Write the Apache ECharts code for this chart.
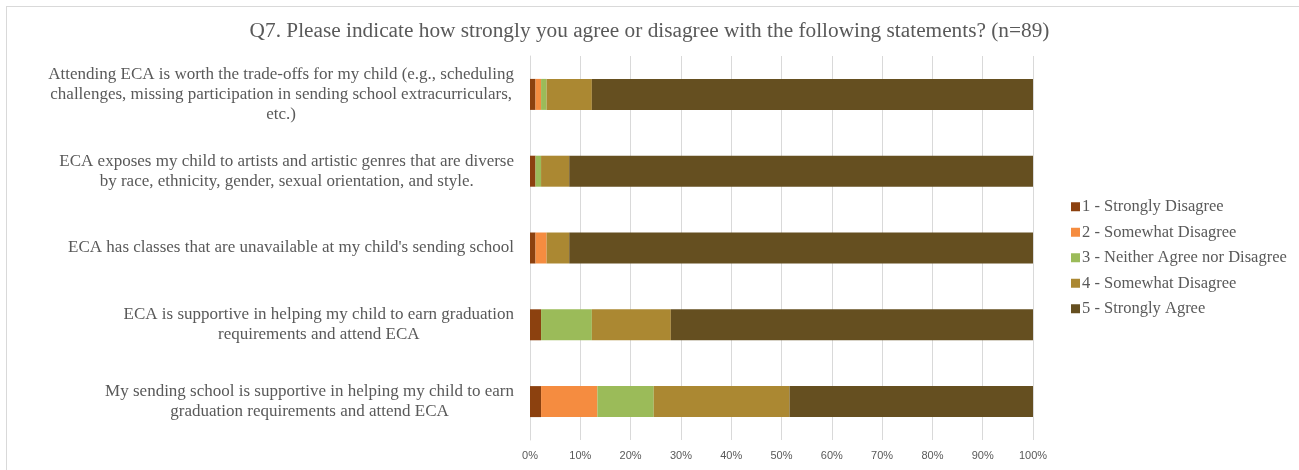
<!DOCTYPE html>
<html>
<head>
<meta charset="utf-8">
<script src="https://cdn.jsdelivr.net/npm/echarts@6/dist/echarts.min.js"></script>
<style>
  html, body { margin: 0; padding: 0; background: #ffffff; }
  #frame { position: absolute; left: 6px; top: 6px; width: 1400px; height: 600px;
           border-left: 1px solid #d9d9d9; border-top: 1px solid #d9d9d9; }
  #chart { position: absolute; left: 0; top: 0; width: 1299px; height: 470px; }
</style>
</head>
<body>
<div id="frame"></div>
<div id="chart"></div>
<script>
// Survey statements (top to bottom), wrapped as they appear
const statements = [
  'Attending ECA is worth the trade-offs for my child (e.g., scheduling\nchallenges, missing participation in sending school extracurriculars,\netc.)',
  'ECA exposes my child to artists and artistic genres that are diverse\nby race, ethnicity, gender, sexual orientation, and style.',
  "ECA has classes that are unavailable at my child's sending school",
  'ECA is supportive in helping my child to earn graduation\nrequirements and attend ECA',
  'My sending school is supportive in helping my child to earn\ngraduation requirements and attend ECA'
];

// Response scale
const responses = [
  '1 - Strongly Disagree',
  '2 - Somewhat Disagree',
  '3 - Neither Agree nor Disagree',
  '4 - Somewhat Disagree',
  '5 - Strongly Agree'
];

// Percent of respondents per statement, one array per response level
const stronglyDisagree = [1.1, 1.1, 1.1, 2.2, 2.2];
const somewhatDisagree = [1.1, 0, 2.2, 0, 11.2];
const neither          = [1.1, 1.1, 0, 10.1, 11.2];
const somewhatAgree    = [9.0, 5.6, 4.5, 15.7, 27.0];
const stronglyAgree    = [87.7, 92.2, 92.2, 72.0, 48.4];

const xTicks = [0, 10, 20, 30, 40, 50, 60, 70, 80, 90, 100];

const palette = ['#8c410f', '#f58c40', '#9bbb59', '#ab8832', '#654f20'];
const seriesValues = [stronglyDisagree, somewhatDisagree, neither, somewhatAgree, stronglyAgree];

const serif = '"Liberation Serif", "DejaVu Serif", serif';

const chart = echarts.init(document.getElementById('chart'), null, { renderer: 'canvas' });

chart.setOption({
  animation: false,
  backgroundColor: 'transparent',
  color: palette,
  title: {
    text: 'Q7. Please indicate how strongly you agree or disagree with the following statements? (n=89)',
    left: 'center',
    top: 16,
    textStyle: { fontFamily: serif, fontSize: 21.3, fontWeight: 'normal', color: '#595959' }
  },
  legend: {
    orient: 'vertical',
    left: 1066,
    top: 193,
    itemWidth: 9,
    itemHeight: 9,
    itemGap: 8,
    icon: 'rect',
    data: responses,
    textStyle: { fontFamily: serif, fontSize: 16.5, lineHeight: 17.5, color: '#595959', padding: [0, 0, 0, -3] }
  },
  grid: { left: 530, right: 266, top: 56, bottom: 30, containLabel: false },
  xAxis: {
    type: 'value',
    min: xTicks[0],
    max: xTicks[xTicks.length - 1],
    interval: 10,
    axisLine: { show: false },
    axisTick: { show: false },
    splitLine: { show: true, lineStyle: { color: '#d9d9d9', width: 1 } },
    axisLabel: {
      formatter: v => v + '%',
      fontFamily: '"Liberation Sans", "DejaVu Sans", sans-serif',
      fontSize: 11,
      color: '#595959',
      margin: 10
    }
  },
  yAxis: {
    type: 'category',
    inverse: true,
    data: statements,
    axisLine: { show: true, lineStyle: { color: '#d9d9d9' } },
    axisTick: { show: false },
    axisLabel: {
      margin: 16,
      align: 'right',
      formatter: s => s.split('\n').map(line => '{c|' + line + '}').join('\n'),
      rich: {
        c: { align: 'center', fontFamily: serif, fontSize: 17, color: '#595959', lineHeight: 19.8 }
      }
    }
  },
  series: responses.map((name, i) => ({
    name: name,
    type: 'bar',
    stack: 'total',
    barWidth: 31,
    data: seriesValues[i],
    itemStyle: { color: palette[i] }
  }))
});
</script>
</body>
</html>
